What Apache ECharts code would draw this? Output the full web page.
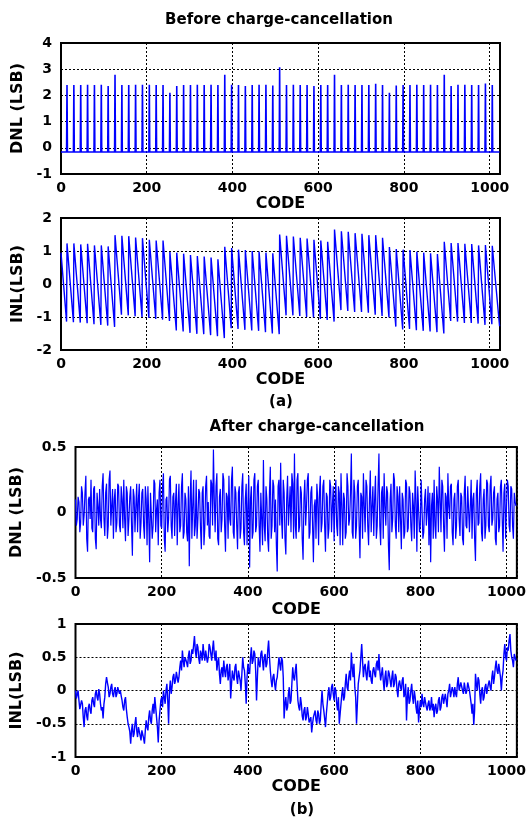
<!DOCTYPE html>
<html><head><meta charset="utf-8">
<script src="https://cdn.jsdelivr.net/npm/echarts@6/dist/echarts.min.js"></script>
<style>html,body{margin:0;padding:0;background:#fff}#c{width:529px;height:820px}</style>
</head><body><div id="c"></div>
<script>
const FONT = '"DejaVu Sans", sans-serif';

// ---- (a) Before charge-cancellation ----
const dnlBeforeBaseline = -0.16;
const spikeCodes = [14,30,46,62,78,94,110,126,142,158,174,190,206,222,238,254,
  270,286,302,318,334,350,366,382,398,414,430,446,462,478,494,510,
  526,542,558,574,590,606,622,638,654,670,686,702,718,734,750,766,
  782,798,814,830,846,862,878,894,910,926,942,958,974,990,1006];
const spikeHeights = [2.40,2.40,2.40,2.41,2.40,2.41,2.36,2.79,2.40,2.40,2.41,2.41,2.41,2.40,2.40,2.10,
  2.36,2.40,2.40,2.41,2.40,2.41,2.40,2.79,2.41,2.40,2.36,2.40,2.41,2.41,2.38,3.07,
  2.40,2.41,2.40,2.40,2.36,2.40,2.40,2.79,2.40,2.41,2.40,2.40,2.40,2.44,2.40,2.10,
  2.38,2.40,2.40,2.41,2.40,2.41,2.40,2.79,2.36,2.41,2.41,2.40,2.40,2.45,2.40];
const inlBeforeStart = 0.95;
const inlBeforeEnd = -1.28;
const inlTroughs = [-1.14,-1.16,-1.17,-1.19,-1.22,-1.24,-1.26,-1.30,-0.93,-0.95,-0.98,-1.00,-1.03,-1.06,-1.08,-1.12,
  -1.41,-1.44,-1.48,-1.51,-1.52,-1.55,-1.58,-1.64,-1.34,-1.36,-1.39,-1.41,-1.42,-1.46,-1.50,-1.52,
  -0.95,-0.95,-0.97,-1.00,-1.01,-1.06,-1.09,-1.14,-0.79,-0.82,-0.85,-0.85,-0.87,-0.93,-0.97,-1.01,
  -1.29,-1.38,-1.36,-1.40,-1.42,-1.44,-1.46,-1.50,-1.12,-1.14,-1.18,-1.18,-1.20,-1.24,-1.22];
const inlPeaks = [1.23,1.23,1.20,1.22,1.17,1.17,1.14,1.48,1.46,1.45,1.41,1.39,1.34,1.32,1.32,0.97,
  0.95,0.92,0.88,0.85,0.83,0.80,0.75,1.13,1.09,1.04,1.03,1.00,0.98,0.95,0.93,1.50,
  1.46,1.44,1.40,1.38,1.34,1.32,1.28,1.65,1.60,1.58,1.54,1.52,1.48,1.48,1.40,1.12,
  1.06,1.04,1.03,0.98,0.95,0.93,0.91,1.28,1.24,1.24,1.22,1.21,1.17,1.18,1.16];

// ---- (b) After charge-cancellation ----
// values at codes 0,4,8,... (A) and at codes 2,6,10,... (B)
const dnlAfterA = [
  0.1,-0.05,0.08,-0.08,0.15,-0.02,0.28,-0.3,0.12,0.25,-0.15,0.2,-0.28,0.05,0.18,-0.12,
  0.3,-0.18,0.22,-0.1,0.32,0.05,-0.2,0.18,-0.08,0.2,-0.15,0.1,0.25,-0.22,0.15,-0.05,
  0.2,-0.33,0.12,0.05,-0.15,0.22,-0.08,0.18,-0.2,0.1,0.2,-0.38,0.15,-0.1,0.22,0.02,
  -0.25,0.25,-0.12,0.3,-0.3,0.12,-0.05,0.28,-0.2,0.15,0.08,-0.25,0.22,-0.1,0.3,-0.15,
  0.1,-0.22,-0.41,0.32,0.05,-0.18,0.25,-0.05,0.15,-0.28,0.2,-0.12,0.28,0.08,-0.2,0.22,
  0.48,-0.15,0.3,-0.25,0.18,-0.05,0.25,-0.3,0.12,0.28,-0.1,0.35,-0.2,0.15,-0.28,0.2,
  -0.12,0.3,-0.25,0.22,0.05,-0.42,0.2,-0.15,0.3,-0.1,0.25,-0.3,0.15,0.4,-0.22,0.1,
  -0.3,0.35,-0.1,0.2,0.1,-0.45,0.25,0.38,-0.2,0.15,-0.32,0.28,0.05,-0.15,0.22,0.45,
  -0.2,0.3,-0.1,0.15,-0.36,0.25,0.05,0.3,-0.15,0.2,-0.38,0.1,0.22,-0.25,0.28,-0.08,
  0.25,-0.3,0.12,-0.12,0.2,0.05,-0.22,0.25,-0.18,0.15,0.3,-0.25,0.1,-0.15,0.2,-0.05,
  0.45,-0.2,0.15,-0.1,0.25,-0.35,0.12,0.3,-0.15,0.2,-0.25,0.32,0.05,-0.18,0.28,-0.1,
  0.45,-0.25,0.2,0.3,-0.1,0.15,-0.44,0.22,-0.05,0.25,-0.2,0.12,0.2,-0.28,0.1,-0.15,
  0.22,-0.12,0.15,-0.22,0.05,0.32,-0.3,0.2,-0.1,0.25,-0.15,0.18,0.02,-0.25,-0.38,0.15,
  0.25,-0.2,0.1,0.35,-0.15,0.2,-0.3,0.12,0.3,-0.05,0.22,-0.25,0.15,-0.1,0.25,-0.18,
  0.12,-0.25,0.28,-0.12,0.2,0.05,-0.2,0.15,-0.37,0.25,-0.08,0.3,-0.22,0.18,-0.1,0.22,
  -0.15,0.28,-0.05,0.2,-0.25,0.15,-0.1,0.25,-0.3,0.22,0.05,0.2,-0.15,0.18,-0.2,0.08];
const dnlAfterB = [
  -0.1,0.12,-0.15,0.2,-0.1,0.15,-0.2,0.1,-0.05,-0.12,0.18,-0.2,0.15,-0.1,-0.05,0.2,
  -0.05,0.15,-0.2,0.25,-0.1,0.18,0.1,-0.15,0.22,-0.1,0.2,-0.12,-0.05,0.2,-0.18,0.12,
  -0.1,0.18,-0.15,0.22,0.1,-0.2,0.15,-0.1,0.2,-0.25,-0.05,0.15,-0.2,0.25,-0.15,0.1,
  0.15,-0.1,0.2,-0.2,0.1,-0.15,0.25,-0.1,0.12,-0.18,0.22,0.05,-0.15,0.2,-0.2,0.15,
  -0.15,0.2,0.1,-0.2,0.25,-0.1,-0.2,0.18,-0.12,0.15,-0.25,0.2,-0.1,-0.18,0.25,-0.1,
  0.1,0.2,-0.2,0.12,-0.15,0.3,-0.1,0.15,-0.2,-0.05,0.25,-0.15,0.2,-0.1,0.15,-0.2,
  0.2,-0.15,0.1,-0.25,0.28,0.1,-0.2,0.25,-0.15,0.2,-0.1,0.15,-0.25,-0.1,0.2,-0.2,
  0.15,-0.2,0.25,-0.15,-0.25,0.2,-0.1,-0.05,0.25,-0.2,0.1,-0.1,0.2,0.3,-0.2,-0.1,
  0.25,-0.15,0.2,-0.2,0.1,-0.1,0.25,-0.2,0.15,-0.1,0.05,-0.2,0.1,0.15,-0.15,0.2,
  -0.1,0.15,-0.2,0.25,-0.15,0.2,0.1,-0.1,0.2,-0.25,0.05,0.15,-0.2,0.3,-0.1,0.15,
  -0.15,0.25,-0.2,0.2,-0.1,0.15,-0.2,0.05,0.25,-0.1,0.1,-0.15,0.2,0.1,-0.2,0.2,
  -0.1,0.15,-0.2,0.05,0.2,-0.25,0.1,-0.15,0.3,-0.1,0.2,-0.15,-0.05,0.15,-0.2,0.25,
  -0.15,0.2,-0.1,0.15,-0.2,0.1,0.2,-0.15,0.25,-0.2,0.1,-0.1,0.2,0.15,0.05,-0.2,
  -0.1,0.2,-0.15,0.1,0.25,-0.1,0.15,-0.2,0.05,0.2,-0.15,0.1,-0.2,0.2,-0.05,0.15,
  -0.2,0.15,-0.1,0.2,-0.15,0.25,0.1,-0.2,0.15,-0.1,0.2,-0.15,0.1,-0.2,0.25,-0.1,
  0.2,-0.1,0.15,-0.2,0.1,-0.15,0.2,-0.05,0.15,-0.2,0.25,-0.1,0.2,-0.1,0.15,0.05];
const inlAfterA = [
  0,-0.1,-0.15,-0.3,-0.2,-0.55,-0.25,-0.45,-0.2,-0.35,-0.1,-0.25,0,-0.15,-0.05,-0.3,
  -0.42,-0.1,0.2,0.05,-0.05,0.1,-0.1,0.05,-0.05,0.08,0,-0.15,-0.3,-0.1,-0.4,-0.55,
  -0.8,-0.5,-0.65,-0.4,-0.7,-0.55,-0.75,-0.6,-0.8,-0.45,-0.6,-0.3,-0.5,-0.2,-0.1,-0.4,
  -0.78,-0.3,-0.1,0,-0.2,0.1,-0.5,0.15,0.05,0.25,0.15,0.3,0.2,0.45,0.6,0.35,
  0.5,0.35,0.6,0.45,0.55,0.82,0.5,0.65,0.4,0.55,0.7,0.45,0.6,0.5,0.65,0.45,
  0.75,0.45,0.3,0.5,0.1,0.35,0.45,0.2,0.4,0.25,-0.12,0.3,0.15,0.4,0.1,0.3,
  0,0.5,0.3,-0.2,0.4,0.25,0.65,0.45,0.55,-0.15,0.5,0.35,0.6,0.3,0.55,0.4,
  0.75,0.3,0.05,0.25,0,0.2,0.5,0.3,0.45,-0.42,-0.1,-0.25,0.05,-0.15,0.35,0.15,
  0.4,-0.15,-0.3,-0.2,-0.45,-0.25,-0.4,-0.35,-0.5,-0.63,-0.4,-0.3,-0.5,-0.35,-0.45,0,
  -0.3,-0.55,-0.2,0.05,-0.1,0.1,-0.15,0,-0.3,-0.5,-0.2,0.05,-0.1,0.25,0,0.3,
  0.57,0.2,0.05,-0.5,0.1,0.3,0.7,0.2,0.4,0.15,0.45,0.3,0.1,0.35,0.2,0.45,
  0.55,0.15,0.35,0,0.3,0.1,0.25,0.05,0.3,0.1,0.2,-0.1,0.15,0,0.2,-0.05,
  -0.45,0.05,-0.15,0.1,-0.2,-0.1,-0.35,-0.48,-0.15,-0.05,-0.25,-0.1,-0.3,-0.15,-0.25,-0.3,
  -0.4,-0.2,-0.3,-0.1,-0.25,-0.05,-0.2,-0.15,-0.05,0.1,-0.1,0,0.05,-0.1,0.2,0,
  0.1,-0.05,0.15,0,0.1,-0.1,-0.35,-0.52,0.25,0,0.15,-0.2,0.05,-0.1,0.1,-0.05,
  0.15,0,0.3,0.2,0.45,0.25,0.4,0,0.3,0.7,0.45,0.6,0.85,0.5,0.35,0.55];
const inlAfterB = [
  -0.12,0,-0.28,-0.15,-0.4,-0.3,-0.38,-0.25,-0.3,-0.15,-0.2,-0.05,-0.1,0.02,-0.2,-0.25,
  -0.2,0.1,0.12,-0.1,0.05,-0.05,0,-0.1,0.05,-0.05,-0.08,-0.25,-0.15,-0.28,-0.5,-0.62,
  -0.6,-0.7,-0.5,-0.6,-0.55,-0.68,-0.6,-0.72,-0.6,-0.55,-0.4,-0.45,-0.3,-0.35,-0.25,-0.55,
  -0.45,-0.15,-0.25,-0.1,0,-0.15,0,-0.05,0.2,0.1,0.28,0.12,0.35,0.3,0.45,0.5,
  0.42,0.52,0.4,0.62,0.68,0.6,0.7,0.48,0.6,0.45,0.55,0.6,0.42,0.7,0.55,0.62,
  0.55,0.6,0.42,0.25,0.3,0.2,0.3,0.35,0.15,0.4,0.1,0.2,0.35,0.2,0.3,0.15,
  0.25,0.35,0.1,0.2,0.3,0.5,0.4,0.6,0.3,0.2,0.4,0.55,0.45,0.5,0.35,0.6,
  0.5,0.15,0.2,0.1,0.15,0.35,0.4,0.5,0.2,-0.2,-0.3,-0.05,-0.2,0.1,0.2,0.3,
  0.1,-0.25,-0.1,-0.38,-0.3,-0.45,-0.25,-0.48,-0.4,-0.5,-0.35,-0.45,-0.3,-0.5,-0.2,-0.2,
  -0.42,-0.35,-0.05,-0.15,0.05,-0.05,0.05,-0.2,-0.1,-0.35,-0.05,-0.15,0.1,0.05,0.2,0.15,
  0.35,0.4,-0.1,-0.2,0.2,0.5,0.45,0.35,0.25,0.35,0.2,0.15,0.3,0.25,0.4,0.3,
  0.3,0.25,0.15,0.2,0.05,0.3,0.15,0.2,0.05,0.25,0,0.1,0.05,0.15,-0.1,0.1,
  -0.1,-0.2,0,-0.1,0,-0.25,-0.15,-0.3,-0.25,-0.2,-0.1,-0.25,-0.2,-0.3,-0.1,-0.2,
  -0.25,-0.35,-0.15,-0.3,-0.1,-0.2,-0.05,-0.25,0,-0.1,0.05,-0.1,-0.05,0.1,0,0.12,
  0,0.12,-0.05,0.12,0,-0.2,-0.2,-0.3,0.1,0.2,-0.05,0,-0.15,0.05,-0.05,0.1,
  0.05,0.2,0.1,0.35,0.3,0.4,0.2,0.2,0.55,0.5,0.65,0.75,0.6,0.45,0.55,0.45];

// ---- build point lists ----
const dnlBeforePts = [[0, dnlBeforeBaseline]];
spikeCodes.forEach((c, i) => {
  dnlBeforePts.push([c - 1, dnlBeforeBaseline], [c, spikeHeights[i]], [c + 1, dnlBeforeBaseline]);
});
dnlBeforePts.push([1023, dnlBeforeBaseline]);

const inlBeforePts = [[0, inlBeforeStart]];
spikeCodes.forEach((c, i) => {
  inlBeforePts.push([c - 1, inlTroughs[i]], [c, inlPeaks[i]]);
});
inlBeforePts.push([1023, inlBeforeEnd]);

function weave(a, b) {
  const out = [];
  a.forEach((v, i) => { out.push([i * 4, v]); out.push([i * 4 + 2, b[i]]); });
  return out;
}
const dnlAfterPts = weave(dnlAfterA, dnlAfterB);
const inlAfterPts = weave(inlAfterA, inlAfterB);

// ---- chart ----
const grids = [
  {left: 61, top: 43, width: 439, height: 131},
  {left: 61, top: 218, width: 439, height: 132},
  {left: 75.5, top: 447, width: 445, height: 131},
  {left: 75.5, top: 624, width: 446, height: 133}
].map(g => Object.assign({show: true, borderColor: '#000', borderWidth: 2, backgroundColor: 'transparent'}, g));

const gridLine = {show: true, lineStyle: {color: '#000', type: [2, 2], width: 1}};
const lblStyle = {color: '#000', fontFamily: FONT, fontWeight: 'bold', fontSize: 14};
const nameStyle = {color: '#000', fontFamily: FONT, fontWeight: 'bold', fontSize: 16};

function xAx(gi, gap) {
  return {
    type: 'value', gridIndex: gi, min: 0, max: 1024, interval: 200,
    axisLine: {show: false}, axisTick: {show: false}, splitLine: gridLine,
    axisLabel: Object.assign({margin: 7, formatter: v => (v % 200 === 0 ? String(v) : '')}, lblStyle),
    name: 'CODE', nameLocation: 'middle', nameGap: gap, nameTextStyle: nameStyle
  };
}
function yAx(gi, min, max, interval, name, gap) {
  return {
    type: 'value', gridIndex: gi, min, max, interval,
    axisLine: {show: false}, axisTick: {show: false}, splitLine: gridLine,
    axisLabel: Object.assign({margin: 9}, lblStyle),
    name, nameLocation: 'middle', nameRotate: 90, nameGap: gap, nameTextStyle: nameStyle
  };
}
function ser(i, data, w) {
  return {
    type: 'line', xAxisIndex: i, yAxisIndex: i, data, showSymbol: false, symbol: 'none',
    lineStyle: {color: '#0000ff', width: w}, animation: false, silent: true
  };
}

const chart = echarts.init(document.getElementById('c'), null, {renderer: 'canvas'});
chart.setOption({
  backgroundColor: '#fff',
  animation: false,
  grid: grids,
  xAxis: [xAx(0, 19), xAx(1, 20), xAx(2, 24), xAx(3, 21)],
  yAxis: [
    yAx(0, -1, 4, 1, 'DNL (LSB)', 27),
    yAx(1, -2, 2, 1, 'INL(LSB)', 27),
    yAx(2, -0.5, 0.5, 0.5, 'DNL (LSB)', 41),
    yAx(3, -1, 1, 0.5, 'INL(LSB)', 41)
  ],
  series: [ser(0, dnlBeforePts, 1.6), ser(1, inlBeforePts, 1.4), ser(2, dnlAfterPts, 1.2), ser(3, inlAfterPts, 1.4)],
  graphic: [
    {type: 'text', x: 279, y: 20, style: {text: 'Before charge-cancellation', align: 'center', verticalAlign: 'middle', fill: '#000', font: 'bold 15px ' + FONT}},
    {type: 'text', x: 281, y: 402, style: {text: '(a)', align: 'center', verticalAlign: 'middle', fill: '#000', font: 'bold 15px ' + FONT}},
    {type: 'text', x: 317, y: 427, style: {text: 'After charge-cancellation', align: 'center', verticalAlign: 'middle', fill: '#000', font: 'bold 15px ' + FONT}},
    {type: 'text', x: 302, y: 810, style: {text: '(b)', align: 'center', verticalAlign: 'middle', fill: '#000', font: 'bold 15px ' + FONT}}
  ]
});
</script>
</body></html>
